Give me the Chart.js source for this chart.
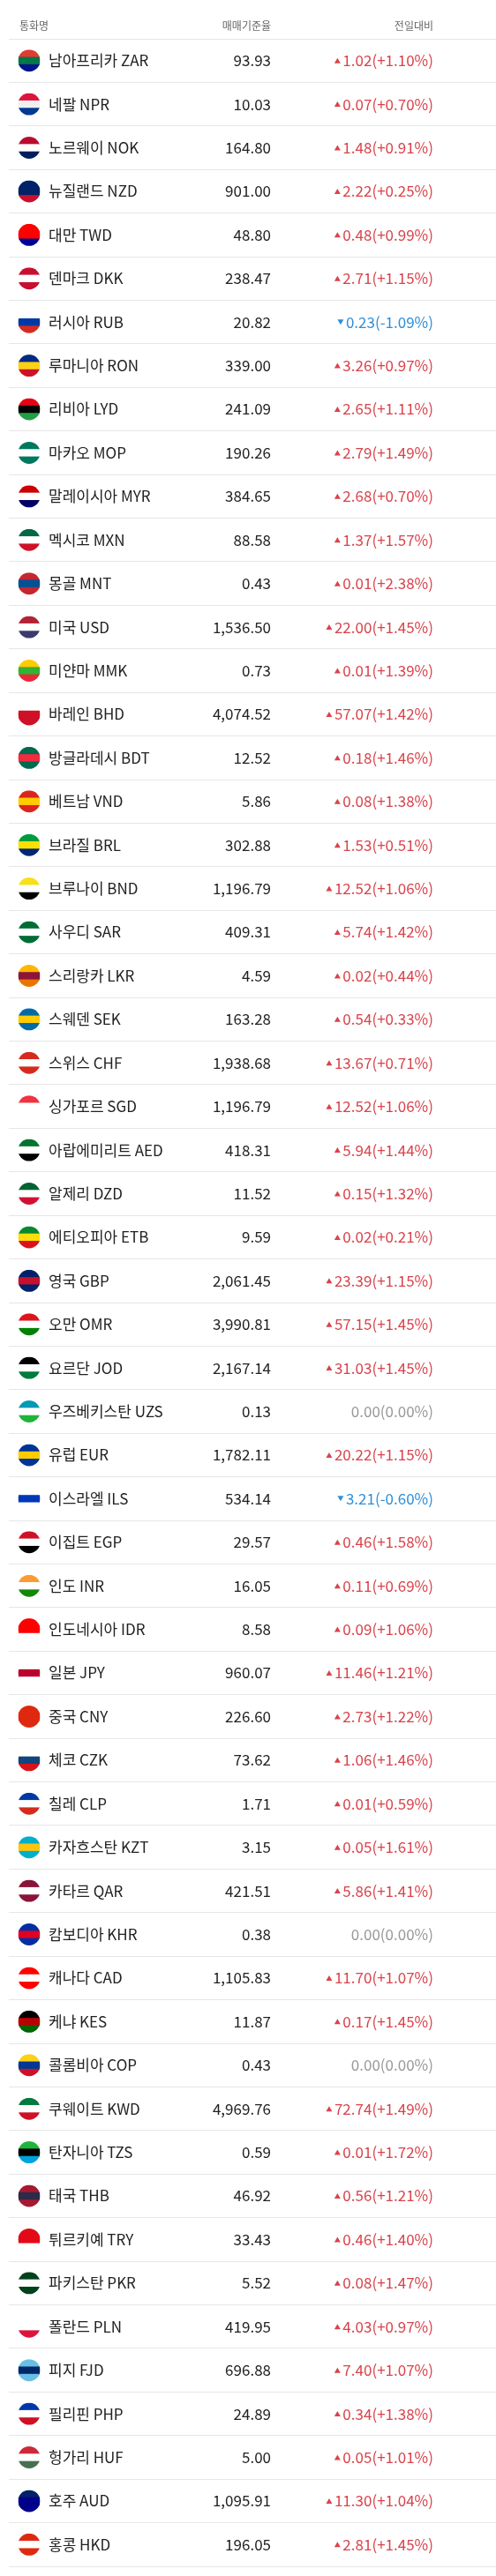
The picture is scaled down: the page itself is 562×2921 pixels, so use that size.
<!DOCTYPE html><html><head><meta charset="utf-8">
<script src="https://cdn.jsdelivr.net/npm/chart.js@4"></script>
<style>html,body{margin:0;padding:0;background:#fff}#w{width:562px;height:2921px;position:relative}</style>
</head><body><div id="w"><canvas id="c"></canvas></div>
<script>
const names=["남아프리카 ZAR","네팔 NPR","노르웨이 NOK","뉴질랜드 NZD","대만 TWD","덴마크 DKK","러시아 RUB","루마니아 RON","리비아 LYD","마카오 MOP","말레이시아 MYR","멕시코 MXN","몽골 MNT","미국 USD","미얀마 MMK","바레인 BHD","방글라데시 BDT","베트남 VND","브라질 BRL","브루나이 BND","사우디 SAR","스리랑카 LKR","스웨덴 SEK","스위스 CHF","싱가포르 SGD","아랍에미리트 AED","알제리 DZD","에티오피아 ETB","영국 GBP","오만 OMR","요르단 JOD","우즈베키스탄 UZS","유럽 EUR","이스라엘 ILS","이집트 EGP","인도 INR","인도네시아 IDR","일본 JPY","중국 CNY","체코 CZK","칠레 CLP","카자흐스탄 KZT","카타르 QAR","캄보디아 KHR","캐나다 CAD","케냐 KES","콜롬비아 COP","쿠웨이트 KWD","탄자니아 TZS","태국 THB","튀르키예 TRY","파키스탄 PKR","폴란드 PLN","피지 FJD","필리핀 PHP","헝가리 HUF","호주 AUD","홍콩 HKD"];
const rates=[93.93,10.03,164.80,901.00,48.80,238.47,20.82,339.00,241.09,190.26,384.65,88.58,0.43,1536.50,0.73,4074.52,12.52,5.86,302.88,1196.79,409.31,4.59,163.28,1938.68,1196.79,418.31,11.52,9.59,2061.45,3990.81,2167.14,0.13,1782.11,534.14,29.57,16.05,8.58,960.07,226.60,73.62,1.71,3.15,421.51,0.38,1105.83,11.87,0.43,4969.76,0.59,46.92,33.43,5.52,419.95,696.88,24.89,5.00,1095.91,196.05];
const changes=[1.02,0.07,1.48,2.22,0.48,2.71,-0.23,3.26,2.65,2.79,2.68,1.37,0.01,22.00,0.01,57.07,0.18,0.08,1.53,12.52,5.74,0.02,0.54,13.67,12.52,5.94,0.15,0.02,23.39,57.15,31.03,0.00,20.22,-3.21,0.46,0.11,0.09,11.46,2.73,1.06,0.01,0.05,5.86,0.00,11.70,0.17,0.00,72.74,0.01,0.56,0.46,0.08,4.03,7.40,0.34,0.05,11.30,2.81];
const pcts=[1.10,0.70,0.91,0.25,0.99,1.15,-1.09,0.97,1.11,1.49,0.70,1.57,2.38,1.45,1.39,1.42,1.46,1.38,0.51,1.06,1.42,0.44,0.33,0.71,1.06,1.44,1.32,0.21,1.15,1.45,1.45,0.00,1.15,-0.60,1.58,0.69,1.06,1.21,1.22,1.46,0.59,1.61,1.41,0.00,1.07,1.45,0.00,1.49,1.72,1.21,1.40,1.47,0.97,1.07,1.38,1.01,1.04,1.45];
const headers=["통화명","매매기준율","전일대비"];
const flagColors=[["#e03c31","#007749","#001489"],["#dc143c","#f0f0f0","#003893"],["#ba0c2f","#fff","#00205b"],["#012169","#012169","#c8102e"],["#fe0000","#fe0000","#000095"],["#c8102e","#fff","#c8102e"],["#fff","#0039a6","#d52b1e"],["#002b7f","#fcd116","#ce1126"],["#e70013","#000","#239e46"],["#00785e","#fff","#00785e"],["#cc0001","#fff","#010066"],["#006847","#fff","#ce1126"],["#c4272f","#015197","#c4272f"],["#b22234","#fff","#3c3b6e"],["#fecb00","#34b233","#ea2839"],["#fff","#ce1126","#ce1126"],["#006a4e","#f42a41","#006a4e"],["#da251d","#ffcd00","#da251d"],["#009c3b","#ffdf00","#002776"],["#f7e017","#fff","#000"],["#006c35","#fff","#006c35"],["#ffb700","#8d153a","#eb7400"],["#006aa7","#fecc00","#006aa7"],["#d52b1e","#fff","#d52b1e"],["#ef3340","#fff","#fff"],["#00732f","#fff","#000"],["#006233","#fff","#d21034"],["#078930","#fcdd09","#da121a"],["#012169","#c8102e","#012169"],["#db161b","#fff","#008000"],["#000","#fff","#007a3d"],["#0099b5","#fff","#1eb53a"],["#003399","#ffcc00","#003399"],["#fff","#0038b8","#fff"],["#ce1126","#fff","#000"],["#ff9933","#fff","#138808"],["#ff0000","#ff0000","#fff"],["#fff","#bc002d","#fff"],["#de2910","#de2910","#de2910"],["#fff","#11457e","#d7141a"],["#0039a6","#fff","#d52b1e"],["#00afca","#fec50c","#00afca"],["#8a1538","#fff","#8a1538"],["#032ea1","#e00025","#032ea1"],["#ff0000","#fff","#ff0000"],["#000","#bb0000","#006600"],["#fcd116","#003893","#ce1126"],["#007a3d","#fff","#ce1126"],["#1eb53a","#000","#00a3dd"],["#a51931","#2d2a4a","#a51931"],["#e30a17","#e30a17","#fff"],["#01411c","#fff","#01411c"],["#fff","#fff","#dc143c"],["#68bfe5","#002868","#68bfe5"],["#0038a8","#fff","#ce1126"],["#ce2939","#fff","#477050"],["#012169","#00008b","#00008b"],["#de2910","#fff","#de2910"]];
const FONT='"Noto Sans CJK KR","Noto Sans",sans-serif';
function fmt(v){return v.toLocaleString('en-US',{minimumFractionDigits:2,maximumFractionDigits:2});}
const tablePlugin={id:'tbl',afterDraw(ch){
 const ctx=ch.ctx,y=ch.scales.y;ctx.save();
 ctx.font='12px '+FONT;ctx.fillStyle='#666';ctx.textBaseline='middle';
 ctx.textAlign='left';ctx.fillText(headers[0],22,29);
 ctx.textAlign='right';ctx.fillText(headers[1],307,29);ctx.fillText(headers[2],491,29);
 ctx.strokeStyle='#e6e6e6';ctx.lineWidth=1;ctx.beginPath();ctx.moveTo(10,44.5);ctx.lineTo(562,44.5);ctx.stroke();
 names.forEach((n,i)=>{
  const py=y.getPixelForValue(i);
  const fc=flagColors[i];const cx=33,r=12.5;
  ctx.save();ctx.beginPath();ctx.arc(cx,py,r,0,Math.PI*2);ctx.clip();
  for(let k=0;k<3;k++){ctx.fillStyle=fc[k];ctx.fillRect(cx-r,py-r+k*(2*r/3),2*r,2*r/3+1);}
  ctx.restore();
  ctx.font='17px '+FONT;ctx.fillStyle='#222';ctx.textAlign='left';ctx.fillText(n,55,py);
  ctx.textAlign='right';ctx.fillText(fmt(rates[i]),307,py);
  const c=changes[i],p=pcts[i];
  let col='#d9434b',tri=1,txt=fmt(Math.abs(c))+'('+(p>0?'+':'')+p.toFixed(2)+'%)';
  if(c<0){col='#2e8fd9';tri=-1;txt=fmt(Math.abs(c))+'('+p.toFixed(2)+'%)';}
  if(c===0){col='#999';tri=0;txt='0.00(0.00%)';}
  ctx.fillStyle=col;ctx.fillText(txt,491,py);
  if(tri){const w=ctx.measureText(txt).width;const tx=491-w-6;ctx.beginPath();
   if(tri>0){ctx.moveTo(tx-3.5,py+3);ctx.lineTo(tx+3.5,py+3);ctx.lineTo(tx,py-3);}
   else{ctx.moveTo(tx-3.5,py-3);ctx.lineTo(tx+3.5,py-3);ctx.lineTo(tx,py+3);}
   ctx.closePath();ctx.fill();}
 });
 ctx.restore();}};
new Chart(document.getElementById('c'),{type:'bar',
 data:{labels:names,datasets:[{data:rates,backgroundColor:'rgba(0,0,0,0)',borderWidth:0}]},
 options:{indexAxis:'y',responsive:true,maintainAspectRatio:false,animation:false,
  layout:{padding:{top:44,bottom:11,left:10,right:0}},
  plugins:{legend:{display:false},tooltip:{enabled:false}},
  scales:{x:{display:false},y:{offset:true,ticks:{display:false},border:{display:false},
   grid:{offset:true,color:'#e6e6e6',drawTicks:false}}}},
 plugins:[tablePlugin]});
</script></body></html>
